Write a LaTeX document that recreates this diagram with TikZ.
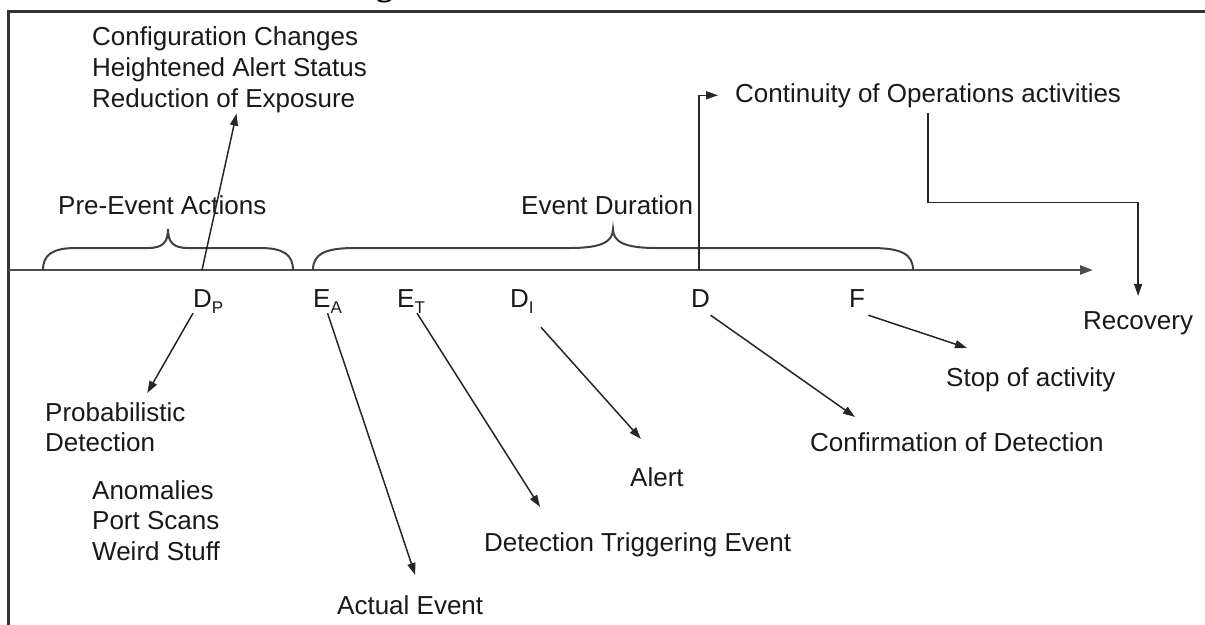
\documentclass[tikz,border=0pt]{standalone}
\usepackage{fontspec}
\setmainfont{Liberation Sans}
\newfontfamily\titlefont{Liberation Serif}
\usetikzlibrary{arrows.meta}
\newcommand\lowsub[1]{\raisebox{-6pt}{\fontsize{17}{17}\selectfont #1}}
\begin{document}
\begin{tikzpicture}[x=1pt,y=-1pt,
  lbl/.style={inner sep=0pt, font=\fontsize{26}{30.5}\selectfont, text=black!90},
  arr/.style={line width=1.5pt, draw=black!85, -{Triangle[length=12pt,width=8pt]}},
  bracestyle/.style={line width=2pt, draw=black!75},
  axisline/.style={line width=2.4pt, draw=black!70, -{Triangle[length=13pt,width=9pt]}},
  frameline/.style={line width=3pt, draw=black!80},
  plain/.style={line width=1.5pt, draw=black!85}]
\clip (0,0) rectangle (1205,624);
% frame and cut title
\draw[frameline] (8,640) -- (8,11) -- (1220,11);
\node[inner sep=0pt, anchor=base west, font=\titlefont\bfseries\fontsize{34}{34}\selectfont] (ttl) at (376,-5) {g};
% axis
\coordinate (axL) at (8,270);
\coordinate (axR) at (1093,270);
\coordinate (dpx) at (202,270);
\coordinate (dx) at (699,270);
\draw[axisline] (axL) -- (axR);
% braces
\draw[bracestyle] (43,270) .. controls (43,255) and (52,248) .. (76,248) -- (148,248)
  .. controls (162,248) and (168,243) .. (168,229) .. controls (168,243) and (174,248) .. (188,248)
  -- (260,248) .. controls (284,248) and (293,255) .. (293,270);
\draw[bracestyle] (313,270) .. controls (313,254) and (325,248) .. (355,248) -- (570,248)
  .. controls (601,248) and (613,242) .. (613,229) .. controls (613,242) and (625,248) .. (656,248)
  -- (871,248) .. controls (901,248) and (913,254) .. (913,270);
% brace labels
\node[lbl, anchor=base west] (pre) at (58,214) {Pre-Event Actions};
\node[lbl, anchor=base west] (evd) at (521,214) {Event Duration};
% axis labels
\node[lbl, anchor=base west] (DP) at (193,307) {D\lowsub{P}};
\node[lbl, anchor=base west] (EA) at (313,307) {E\lowsub{A}};
\node[lbl, anchor=base west] (ET) at (397,307) {E\lowsub{T}};
\node[lbl, anchor=base west] (DI) at (510,307) {D\lowsub{I}};
\node[lbl, anchor=base west] (D) at (691,307) {D};
\node[lbl, anchor=base west] (F) at (849,307) {F};
% texts
\node[lbl, anchor=north west, align=left, font=\fontsize{26}{31}\selectfont] (cfg) at (92,26)
  {Configuration Changes\\Heightened Alert Status\\Reduction of Exposure};
\node[lbl, anchor=north west, align=left] (prob) at (45,402) {Probabilistic\\Detection};
\node[lbl, anchor=north west, align=left] (anom) at (92,480) {Anomalies\\Port Scans\\Weird Stuff};
\node[lbl, anchor=base west] (cont) at (735,102) {Continuity of Operations activities};
\node[lbl, anchor=base west] (rec) at (1083,329) {Recovery};
\node[lbl, anchor=base west] (ae) at (337,614) {Actual Event};
\node[lbl, anchor=base west] (dte) at (484,551) {Detection Triggering Event};
\node[lbl, anchor=base west] (alert) at (630,486) {Alert};
\node[lbl, anchor=base west] (conf) at (810,451) {Confirmation of Detection};
\node[lbl, anchor=base west] (stop) at (946,386) {Stop of activity};
% connectors
\draw[arr] (dpx) -- ([shift={(7,1)}]cfg.south);
\draw[arr] (DP.south west) -- ([shift={(32,-9)}]prob.north);
\draw[arr] (EA.south) -- ([shift={(5,-20)}]ae.north);
\draw[arr] ([xshift=6pt]ET.south) -- ([shift={(56,-25)}]dte.north west);
\draw[arr] ([shift={(19,14)}]DI.south) -- ([shift={(-16,-28)}]alert.north);
\draw[arr] ([shift={(10,8)}]D.south) -- ([shift={(45,-15)}]conf.north west);
\draw[arr] ([shift={(3,8)}]F.south east) -- ([shift={(21,-19)}]stop.north west);
\draw[arr] (dx) |- ([xshift=-17pt]cont.west);
\draw[arr] ([yshift=-5pt]cont.south) -- ++(0,90) -| ([yshift=15pt]rec.north);
\end{tikzpicture}
\end{document}
